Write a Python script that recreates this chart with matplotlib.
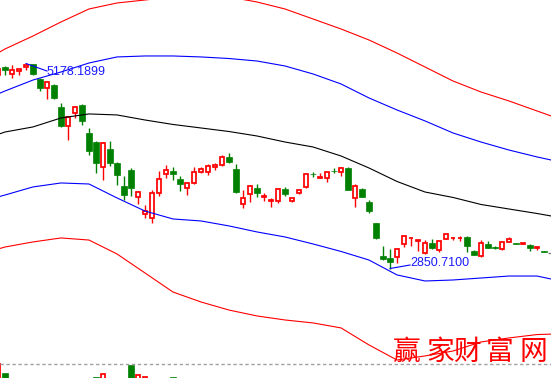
import matplotlib
matplotlib.use("Agg")
import matplotlib.pyplot as plt
from matplotlib.patches import Rectangle
from matplotlib.lines import Line2D

# ---------------- data (log price scale) ----------------
candle_idx = list(range(-1, 79))
opens = [5008, 5126, 5023, 5067, 5126, 5171, 4950, 4822, 4865, 4563,
         4317, 4484, 4589, 4230, 4120, 3831, 4037, 3876, 3625, 3798,
         3511, 3341, 3303, 3552, 3754, 3787, 3700, 3604, 3657, 3776,
         3776, 3831, 3854, 3944, 3809, 3440, 3542, 3604, 3511, 3470,
         3470, 3593, 3470, 3547, 3615, 3754, 3710, 3710, 3792, 3776,
         3820, 3500, 3593, 3460, 3255, 2957, 2940, 2948, 3062, 3116,
         3089, 2983, 3071, 3009, 3107, 3116, 3116, 3125, 3000, 2957,
         3062, 3031, 3017, 3080, 3071, 3062, 3053, 3026, 3000, 2983]
highs = [5141, 5141, 5156, 5096, 5178.19, 5171, 4965, 4921, 4879, 4616,
         4445, 4576, 4603, 4292, 4132, 4120, 4132, 3887, 3732, 3820,
         3573, 3430, 3583, 3787, 3854, 3831, 3732, 3667, 3831, 3831,
         3865, 3876, 3968, 3991, 3865, 3583, 3636, 3646, 3552, 3500,
         3604, 3615, 3500, 3593, 3765, 3776, 3765, 3776, 3820, 3831,
         3831, 3646, 3604, 3480, 3255, 3044, 3017, 3026, 3143, 3120,
         3093, 3097, 3107, 3089, 3161, 3125, 3134, 3130, 3009, 3097,
         3089, 3044, 3080, 3125, 3071, 3071, 3062, 3035, 3000, 2983]
lows = [4979, 5008, 4965, 5008, 5081, 5008, 4780, 4670, 4670, 4305,
        4144, 4419, 4330, 3968, 3765, 3689, 3843, 3636, 3480, 3521,
        3440, 3303, 3255, 3521, 3710, 3689, 3573, 3531, 3646, 3765,
        3743, 3798, 3843, 3876, 3552, 3400, 3460, 3511, 3470, 3410,
        3450, 3521, 3460, 3542, 3604, 3721, 3710, 3667, 3765, 3732,
        3583, 3410, 3511, 3351, 3107, 2922, 2850.71, 2897, 3035, 3044,
        3000, 2974, 3017, 2991, 3107, 3097, 3089, 2991, 2965, 2948,
        3026, 3013, 3009, 3080, 3062, 3062, 3000, 3009, 2991, 2983]
closes = [5096, 5081, 5081, 5096, 5156, 5023, 4822, 4907, 4684, 4317,
          4432, 4563, 4381, 4014, 3876, 4109, 3876, 3743, 3531, 3604,
          3562, 3370, 3552, 3700, 3798, 3754, 3646, 3657, 3776, 3809,
          3843, 3854, 3944, 3887, 3562, 3500, 3625, 3552, 3516, 3475,
          3593, 3542, 3500, 3588, 3754, 3749, 3716, 3776, 3787, 3820,
          3583, 3625, 3511, 3370, 3116, 2931, 2905, 3017, 3134, 3120,
          3093, 3071, 3026, 3089, 3152, 3120, 3120, 3044, 2965, 3071,
          3026, 3026, 3080, 3107, 3062, 3071, 3026, 3035, 2991, 2983]

band_idx = [-1, 0, 4, 8, 12, 16, 20, 24, 28, 32, 36, 40, 44, 48, 52, 56, 60, 64, 68, 72, 76, 78]
mid_line = [4212, 4242, 4305, 4419, 4471, 4458, 4393, 4336, 4292, 4248, 4193,
            4120, 4061, 3956, 3820, 3673, 3562, 3506, 3435, 3390, 3346, 3322]
upper_blue = [4739, 4780, 4935, 5052, 5186, 5278, 5293, 5293, 5278, 5254, 5216,
              5141, 5023, 4879, 4684, 4523, 4381, 4230, 4120, 4025, 3945, 3910]
lower_blue = [3511, 3531, 3615, 3657, 3646, 3501, 3370, 3293, 3274, 3227, 3171,
              3125, 3062, 2996, 2922, 2798, 2749, 2757, 2773, 2789, 2789, 2765]
upper_red = [5339, 5402, 5610, 5844, 6069, 6176, 6230, 6285, 6303, 6285, 6194,
             6069, 5895, 5726, 5545, 5339, 5126, 4921, 4766, 4643, 4510, 4445]
lower_red = [3017, 3035, 3080, 3116, 3097, 2974, 2814, 2662, 2586, 2526, 2483,
             2454, 2433, 2398, 2282, 2184, 2210, 2242, 2302, 2329, 2352, 2355]

vol_idx = [-1, 0, 13, 14, 18, 19, 20, 24]
vol_vals = [100, 85, 79, 84, 97, 82, 79, 79]

max_label = "5178.1899"
min_label = "2850.7100"
watermark = "赢家财富网"

# ---------------- styling ----------------
RED = "#ff0000"
GREEN = "#008000"
GRAY = "#808080"
W, H = 551, 378
plt.rcParams['lines.scale_dashes'] = False

fig = plt.figure(figsize=(W / 100, H / 100), dpi=100)
fig.patch.set_facecolor("white")

ax = fig.add_axes([0, 15 / H, 1, 363 / H])
ax.set_yscale("log")
ax.set_xlim(-5 / 7, 546 / 7)
ax.set_ylim(2165.1, 6229.8)
ax.axis("off")

def ccolor(o, c):
    if c > o:
        return RED
    if c < o:
        return GREEN
    return GRAY

up_w = 0.6
dn_w = 0.86
for i, o, h, l, c in zip(candle_idx, opens, highs, lows, closes):
    col = ccolor(o, c)
    ax.vlines(i, l, h, colors=col, lw=1.0, zorder=2)
    if c > o:
        ax.add_patch(Rectangle((i - up_w / 2, o), up_w, c - o, facecolor="white",
                               edgecolor=RED, lw=1.25, zorder=3))
    elif c < o:
        ax.add_patch(Rectangle((i - dn_w / 2, c), dn_w, o - c, facecolor=GREEN,
                               edgecolor=GREEN, lw=0.5, zorder=3))
    else:
        ax.hlines(o, i - dn_w / 2, i + dn_w / 2, colors=col, lw=1.0, zorder=3)

ax.plot(band_idx, upper_red, color=RED, lw=0.8, zorder=4)
ax.plot(band_idx, lower_red, color=RED, lw=0.8, zorder=4)
ax.plot(band_idx, upper_blue, color="#0000ff", lw=0.8, zorder=4)
ax.plot(band_idx, lower_blue, color="#0000ff", lw=0.8, zorder=4)
ax.plot(band_idx, mid_line, color="black", lw=0.8, zorder=4)

# max / min annotations
imax = highs.index(max(highs))
imin = lows.index(min(lows))
ax.plot([candle_idx[imax], candle_idx[imax] + 3.0], [highs[imax], 5066],
        color="#0000ff", lw=0.8, zorder=5)
ax.text(candle_idx[imax] + 3.0, 5052, max_label, color="#1a1aff", fontsize=9,
        family="Liberation Sans", ha="left", va="center", zorder=6)
ax.plot([candle_idx[imin], candle_idx[imin] + 2.86], [lows[imin], 2880],
        color="#0000ff", lw=0.8, zorder=5)
ax.text(candle_idx[imin] + 2.86, 2901, min_label, color="#1a1aff", fontsize=9,
        family="Liberation Sans", ha="left", va="center", zorder=6)

# volume panel (mostly cropped)
vax = fig.add_axes([0, -52 / H, 1, 67 / H])
vax.set_xlim(-5 / 7, 546 / 7)
vax.set_ylim(0, 100)
vax.axis("off")
for i, v in zip(vol_idx, vol_vals):
    k = candle_idx.index(i)
    if closes[k] > opens[k]:
        vax.add_patch(Rectangle((i - up_w / 2, 0), up_w, v, facecolor="white",
                                edgecolor=RED, lw=1.25))
    else:
        vax.add_patch(Rectangle((i - dn_w / 2, 0), dn_w, v, facecolor=GREEN,
                                edgecolor=GREEN, lw=0.5))

# dashed separator
ysep = 1 - 363.5 / H
fig.add_artist(Line2D([0, 1], [ysep, ysep], transform=fig.transFigure,
                      color="#a0a0a0", lw=1.0, dashes=(2.4, 1.9)))

# watermark
wm_x = [407, 440, 467, 500, 533]
for ch, x in zip(watermark, wm_x):
    fig.text(x / W, 1 - 352 / H, ch, color=RED, fontsize=20,
             family=["Noto Sans CJK SC", "DejaVu Sans"], fontweight="light",
             ha="center", va="center", zorder=10)

fig.savefig("out.png", dpi=100, facecolor="white")
